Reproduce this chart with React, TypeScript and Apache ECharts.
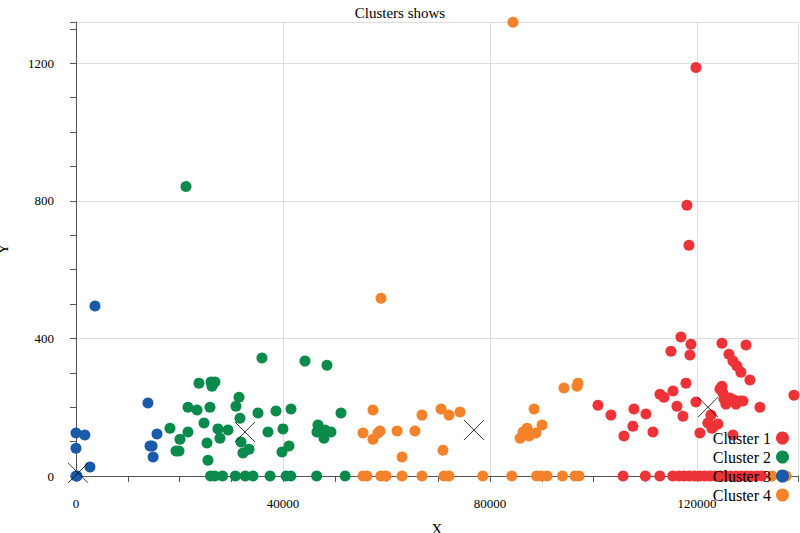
import React, { useEffect, useRef } from 'react'
import * as echarts from 'echarts'

const clusterNames = ['Cluster 1', 'Cluster 2', 'Cluster 3', 'Cluster 4']
const clusterColors = ['#ee3338', '#0a8a4b', '#1a5aa8', '#f4822a']

const cluster1 = [
	[119780, 1188], [118040, 787], [118430, 671], [116880, 404], [118820, 383], [114950, 363],
	[118620, 352], [124810, 386], [129450, 381], [126160, 354], [126930, 334], [127700, 320],
	[128470, 302], [130210, 279], [117850, 270], [115340, 247], [112830, 238], [113600, 229],
	[124420, 253], [124810, 261], [125000, 241], [125190, 224], [125580, 209], [126350, 227],
	[127120, 221], [127510, 209], [128280, 218], [128860, 218], [132140, 200], [138720, 235],
	[116110, 203], [110120, 180], [107800, 195], [100850, 206], [103360, 177], [119780, 215],
	[120550, 125], [122670, 177], [123260, 145], [117270, 174], [107600, 145], [105870, 116],
	[111470, 128], [122090, 154], [124030, 151], [122860, 139], [126930, 119],
	[105700, 0], [110000, 0], [112800, 0], [115300, 0], [116500, 0], [117500, 0], [118500, 0],
	[119500, 0], [120500, 0], [121500, 0], [122500, 0], [123500, 0], [124500, 0], [125500, 0],
	[126500, 0], [127500, 0], [128500, 0], [129500, 0], [130500, 0], [131500, 0], [132500, 0],
]
const cluster2 = [
	[21250, 842], [23760, 270], [26080, 273], [26850, 273], [26280, 261], [31490, 229],
	[21640, 200], [23380, 192], [25890, 200], [30910, 203], [35160, 183], [38640, 189],
	[41540, 195], [31680, 168], [18160, 139], [24730, 154], [21640, 128], [27430, 137],
	[29370, 134], [27820, 110], [20090, 107], [25310, 96], [31880, 99], [37090, 128],
	[39990, 137], [33420, 78], [32260, 67], [19900, 73], [19320, 73], [39800, 70],
	[41150, 87], [25500, 46], [35930, 343], [44240, 334], [48490, 322], [46750, 148],
	[47330, 128], [48110, 134], [49270, 128], [51200, 183], [46560, 128], [47910, 110],
	[26000, 0], [26800, 0], [28300, 0], [30800, 0], [32700, 0], [34200, 0], [37500, 0],
	[40600, 0], [41500, 0], [46500, 0], [52000, 0],
]
const cluster3 = [
	[0, 0], [200, 0], [0, 81], [0, 125], [1700, 119], [2700, 26], [3670, 494],
	[13900, 212], [14300, 87], [14700, 87], [14900, 55], [15650, 122],
]
const cluster4 = [
	[84430, 1319], [58930, 517], [57380, 192], [55450, 125], [57380, 107], [58350, 125],
	[58740, 131], [62030, 131], [63000, 55], [65490, 131], [66850, 177], [70520, 195],
	[72060, 177], [74190, 186], [70900, 75], [85800, 110], [86380, 128], [87150, 139],
	[87540, 116], [88510, 195], [88890, 125], [90060, 148], [94280, 256], [96790, 261],
	[96990, 270],
	[55450, 0], [56200, 0], [58900, 0], [59900, 0], [63000, 0], [66850, 0], [71100, 0],
	[72060, 0], [78600, 0], [84200, 0], [89000, 0], [89800, 0], [91000, 0], [94000, 0],
	[96400, 0], [97200, 0], [134500, 0], [137200, 0],
]
const centroids = [[122100, 200], [32650, 128], [400, 9], [76900, 134]]

const serif = 'Liberation Serif'

const App = () => {
	const chartRef = useRef(null)

	useEffect(() => {
		document.body.style.margin = '0'
		const chart = echarts.init(chartRef.current, null, { renderer: 'svg' })

		const axisLine = { show: true, lineStyle: { color: '#555' } }
		const tick = { show: true, length: 6, lineStyle: { color: '#555' } }
		const label = {
			fontFamily: serif, fontSize: 13, color: '#000', margin: 8,
			showMaxLabel: false, formatter: (v) => String(v),
		}
		const option = {
			animation: false,
			title: {
				text: 'Clusters shows',
				left: 'center',
				top: 0,
				textStyle: { fontFamily: serif, fontWeight: 'normal', fontSize: 15, color: '#000' },
			},
			legend: {
				data: clusterNames,
				orient: 'vertical',
				right: 6,
				top: 425,
				align: 'right',
				icon: 'circle',
				itemWidth: 13,
				itemHeight: 13,
				itemGap: 3,
				textStyle: { fontFamily: serif, fontSize: 16, color: '#000' },
			},
			grid: { left: 76, right: 2, top: 22, bottom: 57, containLabel: false, outerBoundsMode: 'none' },
			xAxis: [
				{
					type: 'value', min: 0, max: 139500, interval: 40000, offset: 13,
					name: 'X', nameLocation: 'middle', nameGap: 32,
					nameTextStyle: { fontFamily: serif, fontSize: 15, color: '#000' },
					axisLine, axisTick: tick, axisLabel: label,
					splitLine: { show: true, lineStyle: { color: '#ddd' } },
				},
				{
					type: 'value', min: 0, max: 139500, interval: 10000, offset: 13, position: 'bottom',
					axisLine: { show: false }, axisTick: tick,
					axisLabel: { show: false }, splitLine: { show: false },
				},
			],
			yAxis: [
				{
					type: 'value', min: 0, max: 1320, interval: 400, offset: 14,
					name: 'Y', nameLocation: 'middle', nameGap: 52, nameRotate: 90,
					nameTextStyle: { fontFamily: serif, fontSize: 15, color: '#000' },
					axisLine, axisTick: tick, axisLabel: label,
					splitLine: { show: true, lineStyle: { color: '#ddd' } },
				},
				{
					type: 'value', min: 0, max: 1320, interval: 100, offset: 14, position: 'left',
					axisLine: { show: false }, axisTick: tick,
					axisLabel: { show: false }, splitLine: { show: false },
				},
			],
			series: [
				...[cluster1, cluster2, cluster3, cluster4].map((d, i) => ({
					name: clusterNames[i],
					type: 'scatter',
					data: d,
					symbolSize: 11,
					itemStyle: { color: clusterColors[i], opacity: 1 },
				})),
				{
					name: 'centroids',
					type: 'scatter',
					data: centroids,
					symbol: 'path://M0,0L10,10M10,0L0,10',
					symbolSize: 20,
					itemStyle: { color: 'none', borderColor: '#000', borderWidth: 1 },
					z: 5,
				},
			],
		}

		chart.setOption(option)
		return () => chart.dispose()
	}, [])

	return <div ref={chartRef} style={{ width: '800px', height: '533px' }} />
}

export default App
